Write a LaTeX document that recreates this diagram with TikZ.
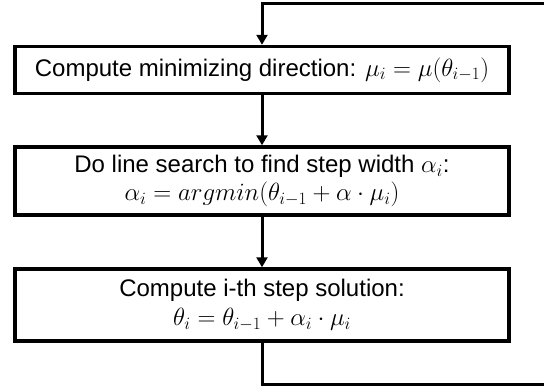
\documentclass[tikz,border=0pt]{standalone}
\usepackage{fontspec}
\setmainfont{Liberation Sans}
\usetikzlibrary{arrows.meta,calc}
\newcommand{\mathbig}[1]{{\fontsize{26}{28.5}\selectfont$#1$}}
\begin{document}
\begin{tikzpicture}[x=1pt,y=-1pt,
  procbox/.style={draw=black, line width=3.5pt, fill=white, minimum width=494pt, align=center, inner sep=0pt,
    font=\fontsize{24}{28.5}\selectfont},
  flow/.style={line width=3pt, -{Triangle[width=11pt,length=10pt]}},
  plain/.style={line width=3pt}]
\useasboundingbox (0,0) rectangle (544,389);
\node[procbox, minimum height=47pt] (b1) at (262,70) {Compute minimizing direction: \mathbig{\mu_i=\mu(\theta_{i-1})}};
\node[procbox, minimum height=68pt] (b2) at (262,181) {Do line search to find step width \mathbig{\alpha_i}:\\ \mathbig{\alpha_i=argmin(\theta_{i-1}+\alpha\cdot\mu_i)}};
\node[procbox, minimum height=72pt] (b3) at (262,305) {Compute i-th step solution:\\ \mathbig{\theta_i=\theta_{i-1}+\alpha_i\cdot\mu_i}};
\coordinate (tr) at (548,3);
\coordinate (br) at (548,384);
\draw[flow] (b1) -- (b2);
\draw[flow] (b2) -- (b3);
\draw[plain] (b3.south) -- (b3.south |- br) -- (br);
\draw[flow] (tr) -- (tr -| b1.north) -- (b1.north);
\end{tikzpicture}
\end{document}
